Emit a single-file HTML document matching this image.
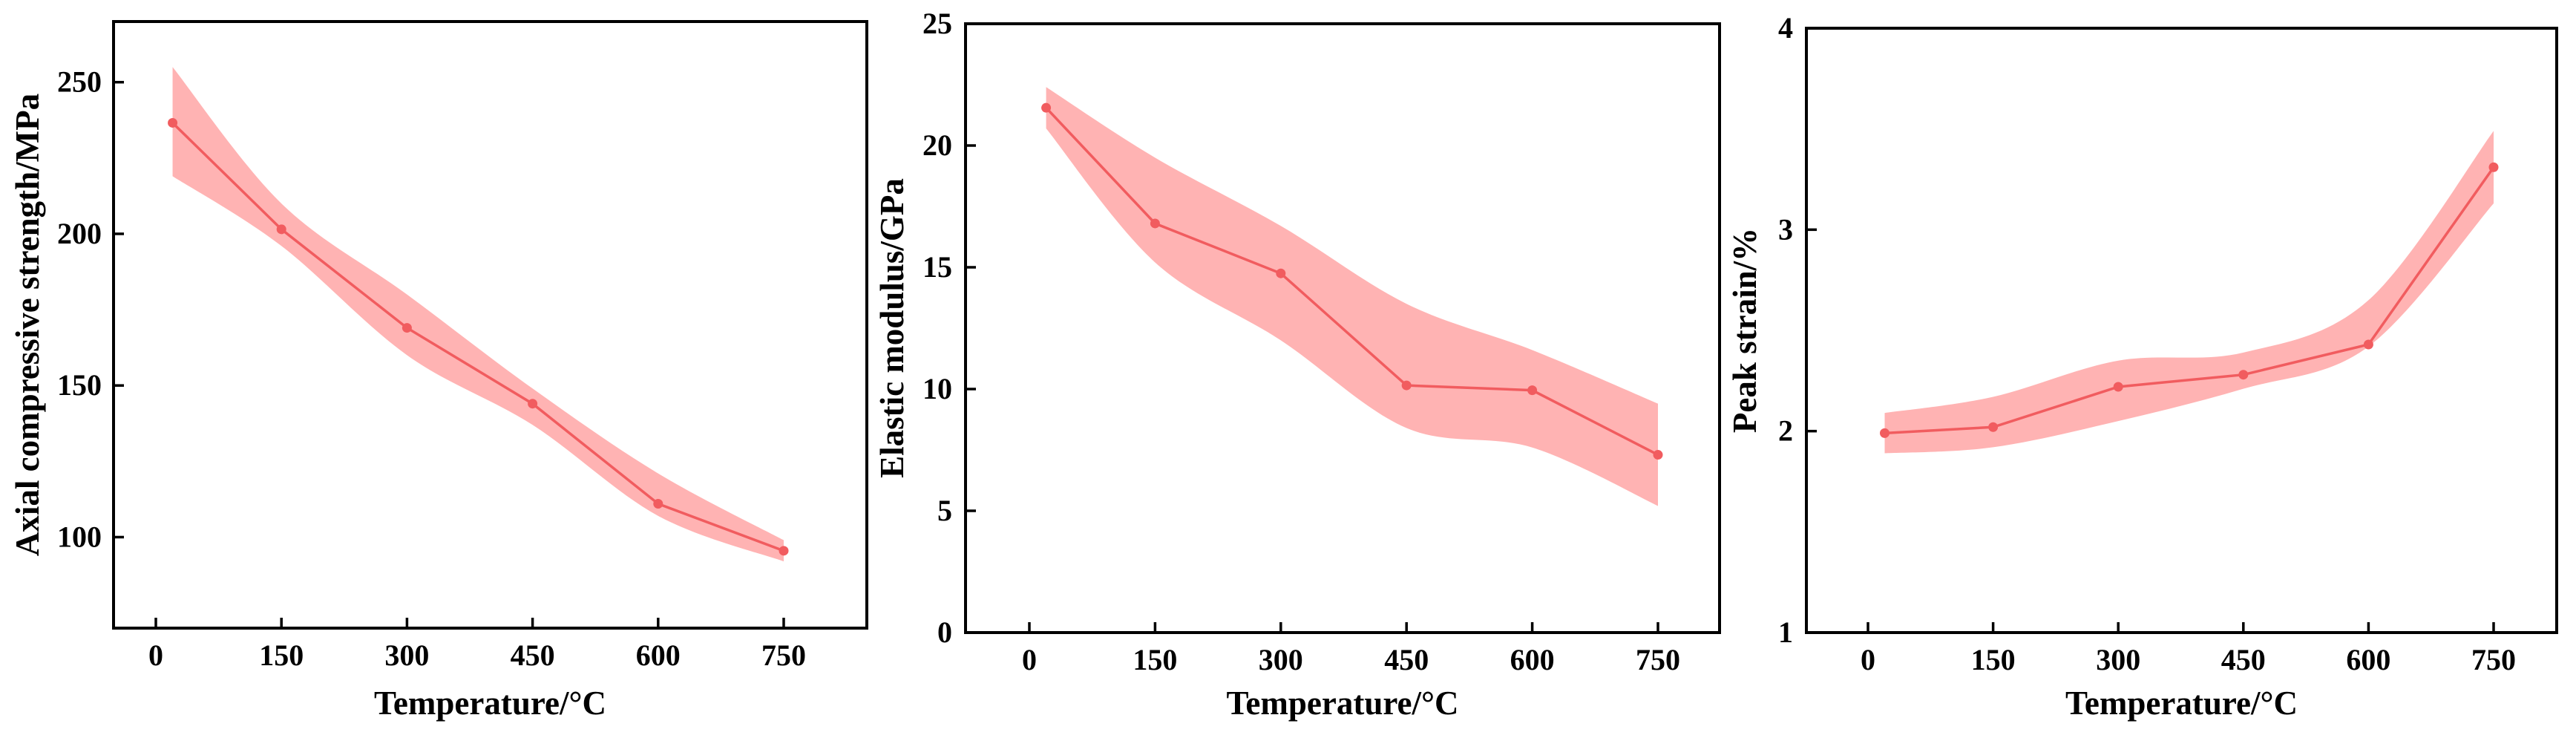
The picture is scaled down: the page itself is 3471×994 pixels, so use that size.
<!DOCTYPE html>
<html><head><meta charset="utf-8"><style>
html,body{margin:0;padding:0;background:#fff;}
svg text{font-family:"Liberation Serif",serif;font-weight:bold;fill:#000;}
</style></head><body>
<svg id="fig" width="3471" height="989" viewBox="0 0 3471 989" xmlns="http://www.w3.org/2000/svg"></svg>
<script>
const temps = [20, 150, 300, 450, 600, 750];
const xTicks = [0, 150, 300, 450, 600, 750];
const strengthMean = [236.6, 201.5, 169, 144, 111, 95.5];
const strengthUpper = [255, 210, 180, 149, 121, 99];
const strengthLower = [219, 196, 160, 137, 107, 92];
const strengthTicks = [100, 150, 200, 250];
const modulusMean = [21.55, 16.8, 14.75, 10.15, 9.95, 7.3];
const modulusUpper = [22.4, 19.5, 16.7, 13.5, 11.6, 9.4];
const modulusLower = [20.7, 15.2, 12.0, 8.4, 7.6, 5.2];
const modulusTicks = [0, 5, 10, 15, 20, 25];
const strainMean = [1.99, 2.02, 2.22, 2.28, 2.43, 3.31];
const strainUpper = [2.09, 2.17, 2.35, 2.39, 2.65, 3.49];
const strainLower = [1.89, 1.92, 2.05, 2.21, 2.42, 3.13];
const strainTicks = [1, 2, 3, 4];

const NS = "http://www.w3.org/2000/svg";
const svg = document.getElementById('fig');
function mk(tag, attrs, parent){const e=document.createElementNS(NS,tag);for(const k in attrs)e.setAttribute(k,attrs[k]);(parent||svg).appendChild(e);return e;}
function smooth(pts){
  let d=`M${pts[0][0]},${pts[0][1]}`;
  for(let i=0;i<pts.length-1;i++){
    const p0=pts[Math.max(0,i-1)],p1=pts[i],p2=pts[i+1],p3=pts[Math.min(pts.length-1,i+2)];
    const c1=[p1[0]+(p2[0]-p0[0])/6,p1[1]+(p2[1]-p0[1])/6];
    const c2=[p2[0]-(p3[0]-p1[0])/6,p2[1]-(p3[1]-p1[1])/6];
    d+=` C${c1[0]},${c1[1]} ${c2[0]},${c2[1]} ${p2[0]},${p2[1]}`;
  }
  return d;
}
function panel(cfg){
  const g=mk('g',{});
  
  
  const x=v=>cfg.x0px+(v-0)*(cfg.x750px-cfg.x0px)/750;
  const y=v=>cfg.bottom-(v-cfg.ymin)*(cfg.bottom-cfg.top)/(cfg.ymax-cfg.ymin);
  const up=temps.map((t,i)=>[x(t),y(cfg.upper[i])]);
  const lo=temps.map((t,i)=>[x(t),y(cfg.lower[i])]).reverse();
  let d=smooth(up)+` L${lo[0][0]},${lo[0][1]}`+smooth(lo).replace(/^M[^C]*/,' ')+' Z';
  const band=mk('path',{d:d,fill:'#ffb3b3',stroke:'none'},g);
  
  
  const line=mk('polyline',{points:temps.map((t,i)=>x(t)+','+y(cfg.mean[i])).join(' '),fill:'none',stroke:'#f15c5f','stroke-width':3.5},g);
  
  
  temps.forEach((t,i)=>{
    const c=mk('circle',{cx:x(t),cy:y(cfg.mean[i]),r:6.5,fill:'#f15c5f'},g);
    
    
  });
  const fr=mk('rect',{x:cfg.left,y:cfg.top,width:cfg.right-cfg.left,height:cfg.bottom-cfg.top,fill:'none',stroke:'#000','stroke-width':4},g);
  
  
  xTicks.forEach(t=>{
    mk('line',{x1:x(t),x2:x(t),y1:cfg.bottom,y2:cfg.bottom-14,stroke:'#000','stroke-width':3.5},g);
    const tl=mk('text',{x:x(t),y:cfg.bottom+50,'font-size':40,'text-anchor':'middle'},g);
    tl.textContent=t;
    
    
  });
  cfg.ticks.forEach(t=>{
    mk('line',{x1:cfg.left,x2:cfg.left+14,y1:y(t),y2:y(t),stroke:'#000','stroke-width':3.5},g);
    const tl=mk('text',{x:cfg.labelRight,y:y(t)+13,'font-size':40,'text-anchor':'end'},g);
    tl.textContent=t;
    
    
  });
  const xt=mk('text',{x:(cfg.left+cfg.right)/2,y:962,'font-size':45,'text-anchor':'middle'},g);
  xt.textContent='Temperature/°C';
  
  
  const cy=(cfg.top+cfg.bottom)/2;
  const yt=mk('text',{x:cfg.titleX,y:cy,'font-size':45,'text-anchor':'middle',transform:`rotate(-90 ${cfg.titleX} ${cy})`},g);
  yt.textContent=cfg.title;
  
  
}
panel({name:'strength-panel',left:153,right:1168,top:29,bottom:846,x0px:210,x750px:1056,ymin:70,ymax:270,
  mean:strengthMean,upper:strengthUpper,lower:strengthLower,ticks:strengthTicks,labelRight:137,titleX:52,title:'Axial compressive strength/MPa'});
panel({name:'modulus-panel',left:1301,right:2317,top:32,bottom:852,x0px:1387,x750px:2234,ymin:0,ymax:25,
  mean:modulusMean,upper:modulusUpper,lower:modulusLower,ticks:modulusTicks,labelRight:1283,titleX:1217,title:'Elastic modulus/GPa'});
panel({name:'strain-panel',left:2434,right:3445,top:38,bottom:852,x0px:2517,x750px:3360,ymin:1,ymax:4,
  mean:strainMean,upper:strainUpper,lower:strainLower,ticks:strainTicks,labelRight:2416,titleX:2366,title:'Peak strain/%'});
</script>
</body></html>
